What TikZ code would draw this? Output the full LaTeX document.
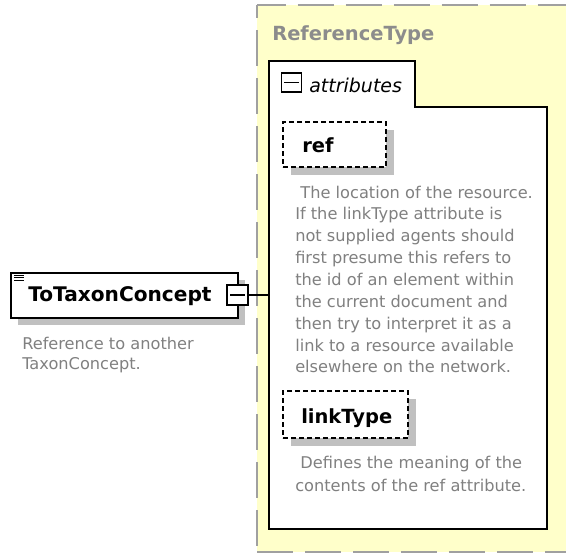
\documentclass[tikz,border=0pt]{standalone}
\usepackage{fontspec}
\setmainfont{DejaVu Sans}
\definecolor{descgray}{RGB}{128,128,128}
\definecolor{typegray}{RGB}{140,140,140}
\definecolor{paleyellow}{RGB}{255,255,202}
\definecolor{bordergray}{RGB}{160,160,160}
\definecolor{shadowgray}{RGB}{192,192,192}
\newcommand\desclines[2]{\vtop{\baselineskip=#1\relax #2}}
\begin{document}
\begin{tikzpicture}[x=0.75pt,y=-0.75pt,
  boldlabel/.style={font=\fontsize{14.6}{17}\selectfont\bfseries, anchor=base west, inner sep=0pt},
  desc/.style={font=\fontsize{12.15}{16}\selectfont, text=descgray, anchor=base west, inner sep=0pt},
  solidbox/.style={draw=black, fill=white, line width=1.125pt, inner sep=0pt},
  attrbox/.style={draw=black, fill=white, line width=1.1pt, dash pattern=on 3.75pt off 2.25pt, inner sep=0pt},
  minusbar/.style={draw=black, line width=1.2pt},
  yellowedge/.style={draw=bordergray, line width=1.9pt},
  conn/.style={draw=black, line width=0.9pt}]
\useasboundingbox (0,0) rectangle (566,553);
% ReferenceType container
\fill[paleyellow] (257,5) rectangle (590,552);
\path[yellowedge, dash pattern=on 27pt off 9pt, dash phase=5.5pt] (257,5) -- (590,5);
\path[yellowedge, dash pattern=on 27pt off 9pt, dash phase=17.25pt] (257,5) -- (257,552);
\path[yellowedge, dash pattern=on 27pt off 9pt, dash phase=0pt] (257,552) -- (590,552);
\node[boldlabel, text=typegray] (reftype) at (272,40) {ReferenceType};
% attributes group
\draw[black, fill=white, line width=1.125pt] (269,61) -- (415,61) -- (415,107) -- (547,107) -- (547,529) -- (269,529) -- cycle;
\coordinate (attrsW) at (269,295);
\node[solidbox, line width=1pt, minimum width=15pt, minimum height=14.25pt] (attrminus) at (291.5,82.5) {};
\draw[minusbar] ([xshift=-5.3pt]attrminus.center) -- ([xshift=5.3pt]attrminus.center);
\node[font=\fontsize{14.25}{17}\selectfont\itshape, anchor=base west, inner sep=0pt] (attrlabel) at (309,92) {attributes};
% ref attribute
\fill[shadowgray] (291,130) rectangle (394,175);
\node[attrbox, minimum width=77.25pt, minimum height=33.75pt] (ref) at (334.5,144.5) {};
\node[boldlabel] (reflabel) at (302,152) {ref};
\node[desc] (refdesc) at (295,198) {\desclines{16.4pt}{%
\hbox{\ The location of the resource.}%
\hbox{If the linkType attribute is}%
\hbox{not supplied agents should}%
\hbox{first presume this refers to}%
\hbox{the id of an element within}%
\hbox{the current document and}%
\hbox{then try to interpret it as a}%
\hbox{link to a resource available}%
\hbox{elsewhere on the network.}}};
% linkType attribute
\fill[shadowgray] (291,399) rectangle (416,446);
\node[attrbox, minimum width=93.75pt, minimum height=35.25pt] (linktype) at (345.5,414.5) {};
\node[boldlabel] (linklabel) at (301,423) {linkType};
\node[desc] (linkdesc) at (295,468.5) {\desclines{16.9pt}{%
\hbox{\ Defines the meaning of the}%
\hbox{contents of the ref attribute.}}};
% element ToTaxonConcept
\fill[shadowgray] (18,280) rectangle (245,325);
\node[solidbox, minimum width=170.25pt, minimum height=33.75pt] (elem) at (124.5,295.5) {};
\draw[line width=0.75pt] (14,275) -- (24,275) (14,277.7) -- (24,277.7) (14,280.4) -- (24,280.4);
\node[boldlabel, font=\fontsize{15.1}{17}\selectfont\bfseries] (elemlabel) at (28,301) {ToTaxonConcept};
\node[solidbox, line width=1pt, minimum width=15.75pt, minimum height=15pt] (elemminus) at (237.5,295) {};
\draw[minusbar] ([xshift=-5.3pt]elemminus.center) -- ([xshift=5.3pt]elemminus.center);
\node[desc] (elemdesc) at (22,349) {\desclines{15.4pt}{%
\hbox{Reference to another}%
\hbox{TaxonConcept.}}};
% connector
\draw[conn] (elemminus.east) -- (attrsW);
\end{tikzpicture}
\end{document}
